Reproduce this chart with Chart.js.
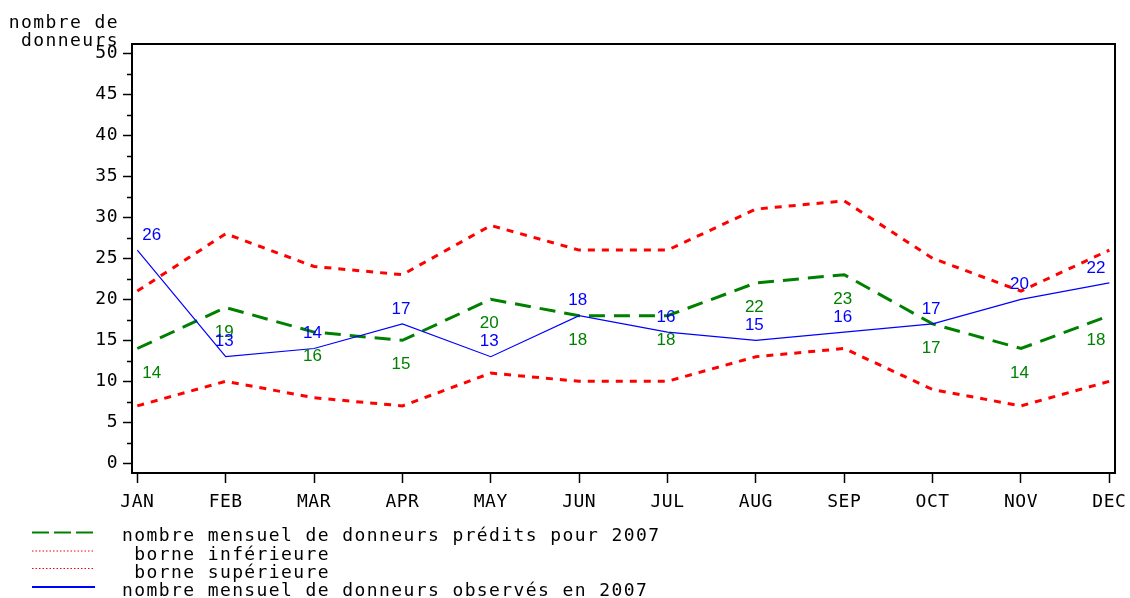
<!DOCTYPE html>
<html><head><meta charset="utf-8">
<script src="https://cdn.jsdelivr.net/npm/chart.js"></script>
<style>
html,body{margin:0;padding:0;background:#fff;}
#wrap{position:relative;width:1130px;height:598px;overflow:hidden;background:#fff;}
canvas{position:absolute;left:0;top:0;}
.t{position:absolute;font-family:"DejaVu Sans Mono",monospace;font-size:18px;line-height:18px;color:#000;letter-spacing:1.4px;white-space:pre;}
svg.s{position:absolute;left:0;top:0;}
</style></head><body>
<div id="wrap">
<canvas id="c" width="1130" height="598"></canvas>
<div class="t" id="ytitle" style="left:0;top:13px;width:119px;text-align:right;">nombre de
donneurs</div>
<div id="legend"></div>
</div>
<script>
// ---- data ----
const months = ["JAN","FEB","MAR","APR","MAY","JUN","JUL","AUG","SEP","OCT","NOV","DEC"];
const predicted = [14, 19, 16, 15, 20, 18, 18, 22, 23, 17, 14, 18];
const lowerBound = [7, 10, 8, 7, 11, 10, 10, 13, 14, 9, 7, 10];
const upperBound = [21, 28, 24, 23, 29, 26, 26, 31, 32, 25, 21, 26];
const observed = [26, 13, 14, 17, 13, 18, 16, 15, 16, 17, 20, 22];
const yTickLabels = [0, 5, 10, 15, 20, 25, 30, 35, 40, 45, 50];
const legendLabels = [
  "nombre mensuel de donneurs prédits pour 2007",
  " borne inférieure",
  " borne supérieure",
  "nombre mensuel de donneurs observés en 2007"
];

const pts = arr => arr.map((v, i) => ({x: i, y: v}));
const TICKFONT = {family: '"DejaVu Sans Mono", monospace', size: 18};

const datasets = [
  {label: legendLabels[0], data: pts(predicted), borderColor: '#008000', borderWidth: 3, borderDash: [16, 9], order: 3, showValues: 'below'},
  {label: legendLabels[1], data: pts(lowerBound), borderColor: '#ff0000', borderWidth: 3, borderDash: [7, 7], order: 2},
  {label: legendLabels[2], data: pts(upperBound), borderColor: '#ff0000', borderWidth: 3, borderDash: [7, 7], order: 1},
  {label: legendLabels[3], data: pts(observed), borderColor: '#0000ff', borderWidth: 1.2, order: 0, showValues: 'above'}
];
datasets.forEach(d => { d.pointRadius = 0; d.tension = 0; d.fill = false; d.borderCapStyle = 'butt'; });

const spacingPlugin = {
  id: 'spacing',
  beforeDraw(chart) { chart.ctx.letterSpacing = '0.5px'; }
};

const framePlugin = {
  id: 'frame',
  afterDraw(chart) {
    const {ctx, chartArea: a} = chart;
    const ys = chart.scales.y;
    ctx.save();
    ctx.letterSpacing = '0px';
    ctx.strokeStyle = '#000';
    ctx.lineWidth = 2;
    ctx.beginPath();
    ctx.moveTo(a.left, a.top); ctx.lineTo(a.right, a.top); ctx.lineTo(a.right, a.bottom);
    ctx.stroke();
    // minor ticks
    ctx.lineWidth = 1.5;
    ctx.beginPath();
    for (let i = 0; i < yTickLabels.length - 1; i++) {
      const v = (yTickLabels[i] + yTickLabels[i + 1]) / 2;
      const y = Math.round(ys.getPixelForValue(v)) + 0.5;
      ctx.moveTo(a.left - 5, y); ctx.lineTo(a.left, y);
    }
    ctx.stroke();
    ctx.restore();
  }
};

const valuesPlugin = {
  id: 'values',
  afterDatasetsDraw(chart) {
    const ctx = chart.ctx;
    ctx.save();
    ctx.letterSpacing = '0px';
    ctx.font = '17px "Liberation Sans", Arial, sans-serif';
    ctx.textBaseline = 'middle';
    chart.data.datasets.forEach((ds, di) => {
      if (!ds.showValues) return;
      const meta = chart.getDatasetMeta(di);
      ctx.fillStyle = ds.borderColor;
      meta.data.forEach((el, i) => {
        const n = meta.data.length;
        let x = el.x, align = 'center';
        if (i === 0) { x = el.x + 5; align = 'left'; }
        else if (i === n - 1) { x = el.x - 4; align = 'right'; }
        else { x = el.x - 1.5; }
        const y = ds.showValues === 'above' ? el.y - 15 : el.y + 24.5;
        ctx.textAlign = align;
        ctx.fillText(String(ds.data[i].y), x, y);
      });
    });
    ctx.restore();
  }
};

new Chart(document.getElementById('c'), {
  type: 'line',
  data: {datasets},
  options: {
    responsive: false,
    animation: false,
    devicePixelRatio: 1,
    layout: {padding: {top: 44, right: 15, left: 0, bottom: 0}},
    plugins: {legend: {display: false}, tooltip: {enabled: false}},
    scales: {
      x: {
        type: 'linear', min: -0.06, max: 11.064,
        afterFit(s) { s.height = 125; s.paddingLeft = 0; s.paddingRight = 0; },
        border: {display: true, color: '#000', width: 2},
        grid: {drawOnChartArea: false, drawTicks: true, tickLength: 10, tickColor: '#000', tickWidth: 1.5},
        ticks: {stepSize: 1, includeBounds: false, autoSkip: false, maxRotation: 0, padding: 9, color: '#000', font: TICKFONT,
          callback: v => months[v] !== undefined ? months[v] : ''}
      },
      y: {
        type: 'linear', min: -1.18, max: 51.13,
        afterFit(s) { s.width = 132; s.paddingTop = 0; s.paddingBottom = 0; },
        border: {display: true, color: '#000', width: 2},
        grid: {drawOnChartArea: false, drawTicks: true, tickLength: 9, tickWidth: 1.5,
          tickColor: c => (c.tick && yTickLabels.includes(c.tick.value)) ? '#000' : 'rgba(0,0,0,0)'},
        ticks: {stepSize: 5, includeBounds: false, padding: 5, color: '#000', font: TICKFONT,
          callback: v => yTickLabels.includes(v) ? String(v) : ''}
      }
    }
  },
  plugins: [spacingPlugin, framePlugin, valuesPlugin]
});

// ---- legend (HTML) ----
const leg = document.getElementById('legend');
const svgNS = 'http://www.w3.org/2000/svg';
const svg = document.createElementNS(svgNS, 'svg');
svg.setAttribute('class', 's'); svg.setAttribute('width', '1130'); svg.setAttribute('height', '598');
const sampleY = [532.5, 551, 568.5, 587];
const textTop = [526, 544.5, 563, 581];
const sampleStyle = [
  {w: 2, dash: '17,5'},
  {w: 1.2, dash: '1.5,2'},
  {w: 1.2, dash: '1.5,2'},
  {w: 2, dash: ''}
];
datasets.forEach((d, i) => {
  const l = document.createElementNS(svgNS, 'line');
  l.setAttribute('x1', 32); l.setAttribute('x2', 95);
  l.setAttribute('y1', sampleY[i]); l.setAttribute('y2', sampleY[i]);
  l.setAttribute('stroke', d.borderColor);
  l.setAttribute('stroke-width', sampleStyle[i].w);
  if (sampleStyle[i].dash) l.setAttribute('stroke-dasharray', sampleStyle[i].dash);
  svg.appendChild(l);
  const t = document.createElement('div');
  t.className = 't';
  t.style.left = '122px';
  t.style.top = textTop[i] + 'px';
  t.textContent = d.label;
  leg.appendChild(t);
});
leg.appendChild(svg);
</script>
</body></html>
